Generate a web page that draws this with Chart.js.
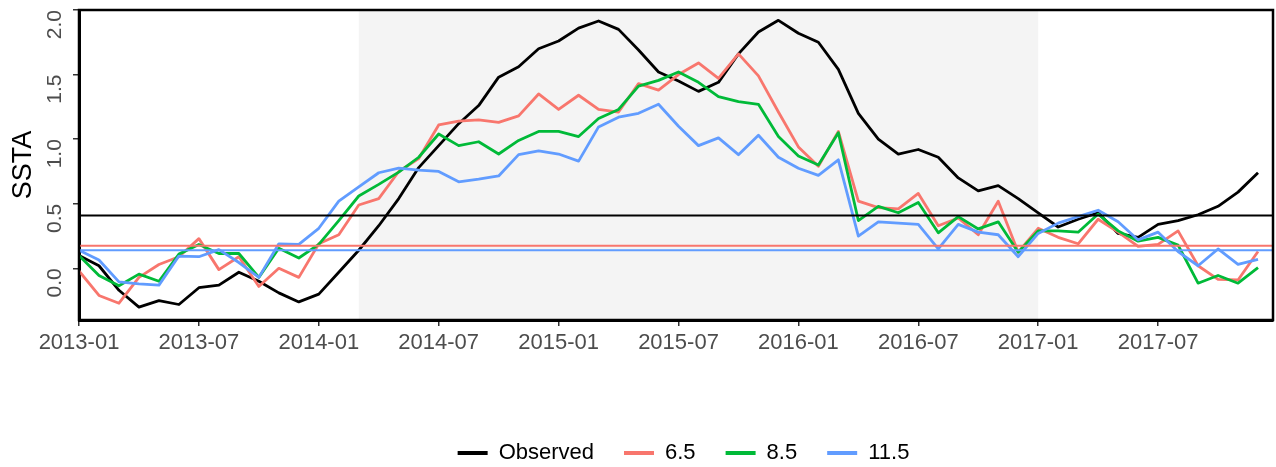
<!DOCTYPE html>
<html lang="en">
<head>
<meta charset="UTF-8">
<title>SSTA</title>
<style>
    body {
        margin: 0;
        background-color: white;
        font-family: "Liberation Sans", Arial, sans-serif;
    }

    #chart-box {
        width: 1276px;
        height: 467px;
    }
</style>
</head>
<body>
<div id="chart-box">
    <canvas id="ssta-chart"></canvas>
</div>
<script src="https://cdn.jsdelivr.net/npm/chart.js"></script>
<script>
    // monthly values, 2013-01 .. 2017-12 (index 0 = 2013-01)
    const observed = [
        0.10, 0.02, -0.17, -0.30, -0.25, -0.28, -0.15, -0.13, -0.03, -0.10, -0.19, -0.26,
        -0.20, -0.03, 0.14, 0.33, 0.54, 0.78, 0.95, 1.12, 1.26, 1.48, 1.56, 1.70,
        1.76, 1.86, 1.915, 1.85, 1.69, 1.52, 1.45, 1.37, 1.44, 1.66, 1.83, 1.92,
        1.82, 1.75, 1.54, 1.20, 1.00, 0.885, 0.92, 0.86, 0.70, 0.60, 0.64, 0.54,
        0.43, 0.32, 0.38, 0.43, 0.27, 0.24, 0.34, 0.37, 0.415, 0.48, 0.59, 0.74
    ];
    const lead65 = [
        -0.02, -0.21, -0.27, -0.07, 0.03, 0.09, 0.23, -0.01, 0.09, -0.14, 0.00, -0.07,
        0.19, 0.26, 0.49, 0.54, 0.75, 0.85, 1.11, 1.14, 1.15, 1.13, 1.18, 1.35,
        1.23, 1.34, 1.23, 1.21, 1.43, 1.38, 1.50, 1.59, 1.47, 1.66, 1.49, 1.21,
        0.94, 0.79, 1.06, 0.52, 0.47, 0.46, 0.58, 0.33, 0.39, 0.26, 0.52, 0.125,
        0.31, 0.24, 0.19, 0.38, 0.28, 0.17, 0.185, 0.29, 0.02, -0.085, -0.09, 0.13
    ];
    const lead85 = [
        0.10, -0.055, -0.135, -0.045, -0.10, 0.11, 0.185, 0.115, 0.115, -0.07, 0.155, 0.08,
        0.185, 0.37, 0.56, 0.65, 0.745, 0.86, 1.04, 0.95, 0.98, 0.885, 0.99, 1.06,
        1.06, 1.02, 1.16, 1.23, 1.41, 1.455, 1.52, 1.44, 1.33, 1.29, 1.27, 1.02,
        0.87, 0.80, 1.05, 0.37, 0.48, 0.43, 0.51, 0.275, 0.40, 0.305, 0.36, 0.125,
        0.29, 0.29, 0.28, 0.42, 0.29, 0.21, 0.24, 0.18, -0.115, -0.055, -0.115, 0.005
    ];
    const lead115 = [
        0.14, 0.065, -0.105, -0.12, -0.13, 0.095, 0.09, 0.145, 0.045, -0.07, 0.19, 0.185,
        0.31, 0.52, 0.63, 0.74, 0.775, 0.76, 0.75, 0.67, 0.69, 0.715, 0.88, 0.91,
        0.885, 0.83, 1.095, 1.17, 1.20, 1.27, 1.10, 0.95, 1.01, 0.88, 1.03, 0.86,
        0.775, 0.72, 0.84, 0.25, 0.36, 0.35, 0.34, 0.15, 0.34, 0.28, 0.26, 0.09,
        0.27, 0.35, 0.40, 0.45, 0.36, 0.22, 0.28, 0.13, 0.02, 0.15, 0.03, 0.07
    ];

    const seriesNames = ['Observed', '6.5', '8.5', '11.5'];
    const seriesColors = ['#000000', '#F8766D', '#00BA38', '#619CFF'];

    // horizontal reference levels (observed, 6.5, 11.5)
    const refLevels = [0.41, 0.175, 0.14];
    const refColors = ['#000000', '#F8766D', '#619CFF'];

    // shaded period, in months from 2013-01 (2014-03 .. 2017-01)
    const shadeStart = 14;
    const shadeEnd = 48;

    const xTickMonths = [0, 6, 12, 18, 24, 30, 36, 42, 48, 54];
    const xTickLabels = ['2013-01', '2013-07', '2014-01', '2014-07', '2015-01',
                         '2015-07', '2016-01', '2016-07', '2017-01', '2017-07'];
    const yTickValues = [0, 0.5, 1.0, 1.5, 2.0];
    const yTickLabels = ['0.0', '0.5', '1.0', '1.5', '2.0'];

    const FONT = '"Liberation Sans", Arial, sans-serif';

    const shadePlugin = {
        id: 'shade',
        beforeDatasetsDraw(chart) {
            const {ctx, chartArea, scales} = chart;
            const x1 = scales.x.getPixelForValue(shadeStart);
            const x2 = scales.x.getPixelForValue(shadeEnd);
            ctx.save();
            ctx.fillStyle = '#f4f4f4';
            ctx.fillRect(x1, chartArea.top, x2 - x1, chartArea.bottom - chartArea.top);
            ctx.restore();
        }
    };

    const refLinePlugin = {
        id: 'refLines',
        afterDatasetsDraw(chart) {
            const {ctx, chartArea, scales} = chart;
            ctx.save();
            ctx.lineWidth = 2;
            refLevels.forEach((v, i) => {
                const y = scales.y.getPixelForValue(v);
                ctx.strokeStyle = refColors[i];
                ctx.beginPath();
                ctx.moveTo(chartArea.left, y);
                ctx.lineTo(chartArea.right, y);
                ctx.stroke();
            });
            ctx.restore();
        }
    };

    // frame, rotated y labels and y title
    const framePlugin = {
        id: 'frame',
        afterLayout(chart) {
            chart.legend.left += 47;
            chart.legend.right += 47;
        },
        afterDraw(chart) {
            const {ctx, chartArea, scales} = chart;
            ctx.save();
            ctx.strokeStyle = '#000';
            ctx.lineWidth = 2.5;
            ctx.strokeRect(chartArea.left, chartArea.top,
                chartArea.right - chartArea.left, chartArea.bottom - chartArea.top);

            // labels read bottom-up and end at their tick
            ctx.fillStyle = '#4d4d4d';
            ctx.font = '21px ' + FONT;
            ctx.textAlign = 'right';
            ctx.textBaseline = 'middle';
            yTickValues.forEach((v, i) => {
                const y = scales.y.getPixelForValue(v);
                ctx.save();
                ctx.translate(55, y);
                ctx.rotate(-Math.PI / 2);
                ctx.fillText(yTickLabels[i], 0, 0);
                ctx.restore();
            });

            ctx.fillStyle = '#000';
            ctx.font = '27px ' + FONT;
            ctx.textAlign = 'center';
            ctx.translate(24, (chartArea.top + chartArea.bottom) / 2);
            ctx.rotate(-Math.PI / 2);
            ctx.fillText('SSTA', 0, 0);
            ctx.restore();
        }
    };

    const allSeries = [observed, lead65, lead85, lead115];
    const datasets = allSeries.map((values, k) => ({
        label: seriesNames[k],
        data: values.map((v, i) => ({x: i, y: v})),
        borderColor: seriesColors[k],
        backgroundColor: seriesColors[k],
        borderWidth: 2.8,
        borderJoinStyle: 'round',
        pointRadius: 0,
        tension: 0,
        order: allSeries.length - 1 - k
    }));

    const ctx = document.getElementById('ssta-chart').getContext('2d');
    new Chart(ctx, {
        type: 'line',
        data: {datasets: datasets},
        plugins: [shadePlugin, refLinePlugin, framePlugin],
        options: {
            responsive: true,
            maintainAspectRatio: false,
            animation: false,
            devicePixelRatio: 1,
            layout: {padding: {top: 10, right: 3, bottom: 0, left: 0}},
            scales: {
                x: {
                    type: 'linear',
                    min: 0,
                    max: 59.75,
                    afterBuildTicks: (scale) => {
                        scale.ticks = xTickMonths.map(v => ({value: v}));
                    },
                    afterFit: (scale) => { scale.height = 92; },
                    ticks: {
                        autoSkip: false,
                        maxRotation: 0,
                        padding: 4,
                        color: '#4d4d4d',
                        font: {family: FONT, size: 22},
                        callback: (value) => xTickLabels[xTickMonths.indexOf(value)]
                    },
                    grid: {drawOnChartArea: false, tickLength: 6, color: '#333', lineWidth: 1.5},
                    border: {color: '#000', width: 3}
                },
                y: {
                    min: -0.4,
                    max: 2.0,
                    afterBuildTicks: (scale) => {
                        scale.ticks = yTickValues.map(v => ({value: v}));
                    },
                    afterFit: (scale) => { scale.width = 79; },
                    ticks: {display: false},
                    grid: {drawOnChartArea: false, tickLength: 6, color: '#333', lineWidth: 1.5},
                    border: {color: '#000', width: 3}
                }
            },
            plugins: {
                tooltip: {enabled: false},
                legend: {
                    position: 'bottom',
                    maxHeight: 55,
                    labels: {
                        boxWidth: 30,
                        boxHeight: 4,
                        padding: 30,
                        color: '#000',
                        font: {family: FONT, size: 22},
                        sort: (a, b) => a.datasetIndex - b.datasetIndex,
                        generateLabels: (chart) => {
                            const items = Chart.defaults.plugins.legend.labels.generateLabels(chart);
                            return items.map(it => Object.assign(it, {lineWidth: 0, fillStyle: it.strokeStyle}));
                        }
                    }
                }
            }
        }
    });
</script>
</body>
</html>
